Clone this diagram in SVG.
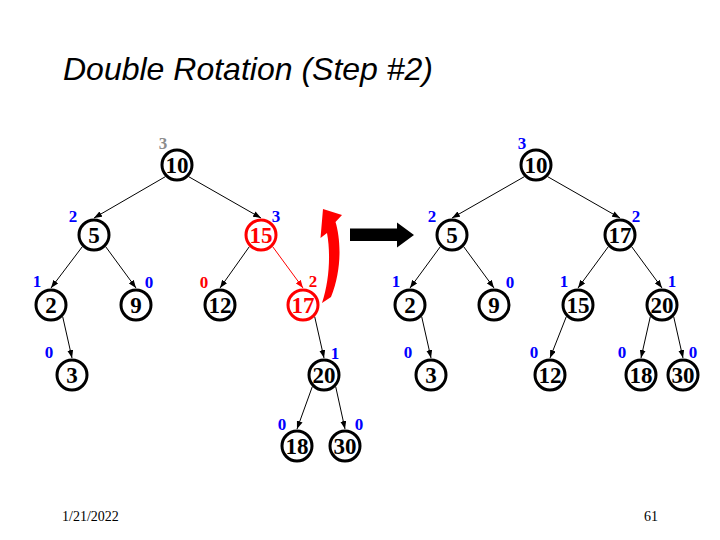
<svg xmlns="http://www.w3.org/2000/svg" width="720" height="540" viewBox="0 0 720 540">
<style>
.node circle{fill:#fff;stroke:#000;stroke-width:3}
.node text{font-family:"Liberation Serif","Times New Roman",serif;font-weight:bold;font-size:23px;text-anchor:middle;fill:#000}
.node.red circle{stroke:#f00}
.node.red text{fill:#f00}
.lbl{font-family:"Liberation Serif","Times New Roman",serif;font-weight:bold;font-size:17px;text-anchor:middle;fill:#00f}
.lbl.r{fill:#f00}
.lbl.g{fill:#8c8c8c}
.edge{stroke:#000;stroke-width:1;fill:none;marker-end:url(#ah)}
.edge.red{stroke:#f00;marker-end:url(#ahr)}
.foot{font-family:"Liberation Serif","Times New Roman",serif;font-size:14px;fill:#000}
</style>
<defs>
<marker id="ah" viewBox="0 0 8 6" refX="8" refY="3" markerWidth="8" markerHeight="6" markerUnits="userSpaceOnUse" orient="auto"><path d="M0,0 L8,3 L0,6 Z" fill="#000"/></marker>
<marker id="ahr" viewBox="0 0 8 6" refX="8" refY="3" markerWidth="8" markerHeight="6" markerUnits="userSpaceOnUse" orient="auto"><path d="M0,0 L8,3 L0,6 Z" fill="#f00"/></marker>
</defs>
<rect width="720" height="540" fill="#fff"/>
<text x="63" y="80" font-family="Liberation Sans, Arial, sans-serif" font-style="italic" font-size="32">Double Rotation (Step #2)</text>
<text class="foot" x="62" y="521">1/21/2022</text>
<text class="foot" x="644" y="521">61</text>

<g id="connectors">
<line class="edge" x1="165.3" y1="176.7" x2="94" y2="218"/>
<line class="edge" x1="188.7" y1="176.7" x2="261" y2="218"/>
<line class="edge" x1="82.3" y1="246.7" x2="51" y2="288"/>
<line class="edge" x1="105.7" y1="246.7" x2="136" y2="288"/>
<line class="edge" x1="249.3" y1="246.7" x2="220" y2="288"/>
<line class="edge red" x1="272.7" y1="246.7" x2="303" y2="288"/>
<line class="edge" x1="62.7" y1="316.7" x2="72" y2="358"/>
<line class="edge" x1="314.7" y1="316.7" x2="324" y2="358"/>
<line class="edge" x1="312.3" y1="386.7" x2="297" y2="429"/>
<line class="edge" x1="335.7" y1="386.7" x2="345" y2="429"/>

<line class="edge" x1="524.3" y1="176.7" x2="452" y2="218"/>
<line class="edge" x1="547.7" y1="176.7" x2="620" y2="218"/>
<line class="edge" x1="440.3" y1="246.7" x2="410" y2="288"/>
<line class="edge" x1="463.7" y1="246.7" x2="494" y2="288"/>
<line class="edge" x1="608.3" y1="246.7" x2="578" y2="288"/>
<line class="edge" x1="631.7" y1="246.7" x2="662" y2="288"/>
<line class="edge" x1="421.7" y1="316.7" x2="431" y2="358"/>
<line class="edge" x1="566.3" y1="316.7" x2="550" y2="358"/>
<line class="edge" x1="650.3" y1="316.7" x2="641" y2="358"/>
<line class="edge" x1="673.7" y1="316.7" x2="683" y2="358"/>
</g>

<g id="L10" class="node"><circle cx="177" cy="165" r="15"/><text x="177" y="173">10</text></g>
<g id="L5" class="node"><circle cx="94" cy="235" r="15"/><text x="94" y="243">5</text></g>
<g id="L15" class="node red"><circle cx="261" cy="235" r="15"/><text x="261" y="243">15</text></g>
<g id="L2" class="node"><circle cx="51" cy="305" r="15"/><text x="51" y="313">2</text></g>
<g id="L9" class="node"><circle cx="136" cy="305" r="15"/><text x="136" y="313">9</text></g>
<g id="L12" class="node"><circle cx="220" cy="305" r="15"/><text x="220" y="313">12</text></g>
<g id="L17" class="node red"><circle cx="303" cy="305" r="15"/><text x="303" y="313">17</text></g>
<g id="L3" class="node"><circle cx="72" cy="375" r="15"/><text x="72" y="383">3</text></g>
<g id="L20" class="node"><circle cx="324" cy="375" r="15"/><text x="324" y="383">20</text></g>
<g id="L18" class="node"><circle cx="297" cy="446" r="15"/><text x="297" y="454">18</text></g>
<g id="L30" class="node"><circle cx="345" cy="446" r="15"/><text x="345" y="454">30</text></g>

<g id="R10" class="node"><circle cx="536" cy="165" r="15"/><text x="536" y="173">10</text></g>
<g id="R5" class="node"><circle cx="452" cy="235" r="15"/><text x="452" y="243">5</text></g>
<g id="R17" class="node"><circle cx="620" cy="235" r="15"/><text x="620" y="243">17</text></g>
<g id="R2" class="node"><circle cx="410" cy="305" r="15"/><text x="410" y="313">2</text></g>
<g id="R9" class="node"><circle cx="494" cy="305" r="15"/><text x="494" y="313">9</text></g>
<g id="R15" class="node"><circle cx="578" cy="305" r="15"/><text x="578" y="313">15</text></g>
<g id="R20" class="node"><circle cx="662" cy="305" r="15"/><text x="662" y="313">20</text></g>
<g id="R3" class="node"><circle cx="431" cy="375" r="15"/><text x="431" y="383">3</text></g>
<g id="R12" class="node"><circle cx="550" cy="375" r="15"/><text x="550" y="383">12</text></g>
<g id="R18" class="node"><circle cx="641" cy="375" r="15"/><text x="641" y="383">18</text></g>
<g id="R30" class="node"><circle cx="683" cy="375" r="15"/><text x="683" y="383">30</text></g>

<g id="labels">
<text class="lbl g" x="163" y="149">3</text>
<text class="lbl" x="73" y="222">2</text>
<text class="lbl" x="276" y="222">3</text>
<text class="lbl" x="37" y="287">1</text>
<text class="lbl" x="149" y="288">0</text>
<text class="lbl r" x="204" y="288">0</text>
<text class="lbl r" x="313" y="287">2</text>
<text class="lbl" x="49" y="358">0</text>
<text class="lbl" x="335" y="359">1</text>
<text class="lbl" x="282" y="430">0</text>
<text class="lbl" x="359" y="430">0</text>

<text class="lbl" x="522" y="149">3</text>
<text class="lbl" x="432" y="222">2</text>
<text class="lbl" x="636" y="222">2</text>
<text class="lbl" x="396" y="287">1</text>
<text class="lbl" x="510" y="288">0</text>
<text class="lbl" x="564" y="287">1</text>
<text class="lbl" x="672" y="287">1</text>
<text class="lbl" x="408" y="358">0</text>
<text class="lbl" x="534" y="358">0</text>
<text class="lbl" x="622" y="358">0</text>
<text class="lbl" x="693" y="358">0</text>
</g>

<g id="rotation-arrow">
<path d="M323,209 L342,215 L335.5,222 C341,240 342,270 331,297 L322,303 C329,282 331,255 327,233 L320.5,238 Z" fill="#f00"/>
</g>
<g id="transform-arrow">
<path d="M350,228.5 L397,228.5 L397,222.5 L414,235 L397,247.5 L397,241 L350,241 Z" fill="#000"/>
</g>
</svg>
